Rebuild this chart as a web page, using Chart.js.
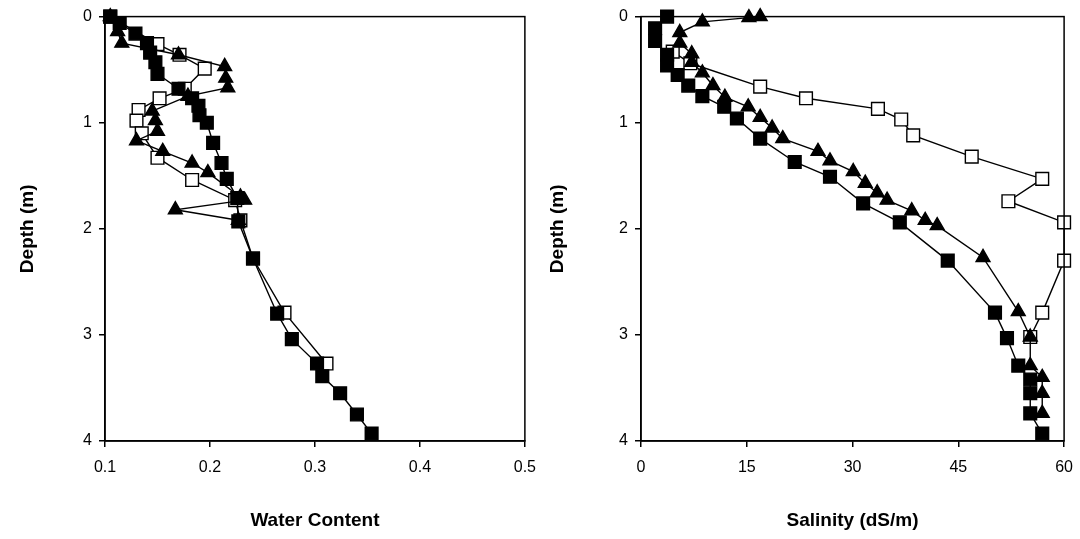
<!DOCTYPE html>
<html>
<head>
<meta charset="utf-8">
<script src="https://cdn.jsdelivr.net/npm/chart.js@4.4.1/dist/chart.umd.min.js"></script>
<style>
  html, body { margin: 0; padding: 0; background: #fff; overflow: hidden; }
  #wrap { position: relative; width: 1080px; height: 539px; overflow: hidden; }
  canvas { position: absolute; top: 0; }
</style>
</head>
<body>
<div id="wrap">
  <canvas id="c1" width="547" height="539" style="left:0"></canvas>
  <canvas id="c2" width="544" height="539" style="left:540px"></canvas>
</div>
<script>
// ---------- Water content (left panel) ----------
const wcFilledDepth = [0, 0.06, 0.16, 0.25, 0.34, 0.43, 0.54, 0.68, 0.77, 0.84, 0.93, 1.0, 1.19, 1.38, 1.53, 1.71, 1.93, 2.28, 2.80, 3.04, 3.27, 3.39, 3.55, 3.75, 3.93];
const wcFilledValue = [0.105, 0.114, 0.129, 0.140, 0.143, 0.148, 0.150, 0.170, 0.183, 0.189, 0.190, 0.197, 0.203, 0.211, 0.216, 0.226, 0.227, 0.241, 0.264, 0.278, 0.302, 0.307, 0.324, 0.340, 0.354];

const wcOpenDepth = [0, 0.26, 0.36, 0.49, 0.68, 0.77, 0.88, 0.98, 1.10, 1.33, 1.54, 1.73, 1.92, 2.28, 2.79, 3.27];
const wcOpenValue = [0.105, 0.150, 0.171, 0.195, 0.176, 0.152, 0.132, 0.130, 0.135, 0.150, 0.183, 0.224, 0.229, 0.241, 0.271, 0.311];

const wcTriDepth = [0, 0.14, 0.25, 0.36, 0.47, 0.58, 0.67, 0.75, 0.89, 0.98, 1.08, 1.17, 1.27, 1.38, 1.47, 1.70, 1.73, 1.82, 1.92];
const wcTriValue = [0.105, 0.112, 0.116, 0.170, 0.214, 0.215, 0.217, 0.179, 0.145, 0.148, 0.150, 0.130, 0.155, 0.183, 0.198, 0.229, 0.233, 0.167, 0.227];

const wcTicks = [0.1, 0.2, 0.3, 0.4, 0.5];

// ---------- Salinity (right panel) ----------
const salFilledDepth = [0, 0.11, 0.23, 0.36, 0.46, 0.55, 0.65, 0.75, 0.85, 0.96, 1.15, 1.37, 1.51, 1.76, 1.94, 2.30, 2.79, 3.03, 3.29, 3.42, 3.55, 3.74, 3.93];
const salFilledValue = [3.7, 2.0, 2.0, 3.7, 3.7, 5.2, 6.7, 8.7, 11.8, 13.6, 16.9, 21.8, 26.8, 31.5, 36.7, 43.5, 50.2, 51.9, 53.5, 55.2, 55.2, 55.2, 56.9];

const salOpenDepth = [0.33, 0.44, 0.66, 0.77, 0.87, 0.97, 1.12, 1.32, 1.53, 1.74, 1.94, 2.30, 2.79, 3.02];
const salOpenValue = [4.5, 7.0, 16.9, 23.4, 33.6, 36.9, 38.6, 46.9, 56.9, 52.1, 60.0, 60.0, 56.9, 55.2];

const salTriDepth = [0, 0.01, 0.05, 0.15, 0.25, 0.35, 0.43, 0.53, 0.65, 0.76, 0.85, 0.95, 1.05, 1.15, 1.27, 1.36, 1.46, 1.57, 1.66, 1.73, 1.83, 1.92, 1.97, 2.27, 2.78, 3.02, 3.29, 3.40, 3.55, 3.74];
const salTriValue = [16.9, 15.3, 8.7, 5.5, 5.5, 7.2, 7.2, 8.7, 10.2, 11.9, 15.2, 16.9, 18.6, 20.1, 25.1, 26.8, 30.1, 31.8, 33.5, 34.9, 38.4, 40.3, 42.0, 48.5, 53.5, 55.2, 55.2, 56.9, 56.9, 56.9];

const salTicks = [0, 15, 30, 45, 60];
const depthTicks = [0, 1, 2, 3, 4];

function pts(xs, ys) { return xs.map((v, i) => ({ x: v, y: ys[i] })); }

const FONT = "'Liberation Sans', Arial, Helvetica, sans-serif";

const boxPlugin = {
  id: 'box',
  afterDraw(chart) {
    const a = chart.chartArea, ctx = chart.ctx;
    ctx.save();
    ctx.strokeStyle = '#000';
    ctx.lineWidth = 1.5;
    ctx.strokeRect(a.left, a.top, a.right - a.left, a.bottom - a.top);
    ctx.restore();
  }
};

function ds(data, style) {
  const base = {
    data: data, showLine: true, borderColor: '#000', borderWidth: 1.4,
    pointBorderColor: '#000', pointBorderWidth: 1.4, clip: false,
    pointHoverRadius: 0
  };
  if (style === 'filled') return Object.assign(base, { pointStyle: 'rect', pointRadius: 9, pointBackgroundColor: '#000' });
  if (style === 'open') return Object.assign(base, { pointStyle: 'rect', pointRadius: 9, pointBackgroundColor: '#fff' });
  return Object.assign(base, { pointStyle: 'triangle', pointRadius: 8, pointBackgroundColor: '#000' });
}

function makeChart(id, datasets, xcfg, yW, yTitlePad, pad) {
  return new Chart(document.getElementById(id), {
    type: 'scatter',
    data: { datasets: datasets },
    plugins: [boxPlugin],
    options: {
      responsive: false, animation: false, devicePixelRatio: 1,
      layout: { padding: pad },
      plugins: { legend: { display: false }, tooltip: { enabled: false } },
      scales: {
        x: {
          type: 'linear', min: xcfg.min, max: xcfg.max,
          afterBuildTicks(s) { s.ticks = xcfg.ticks.map(v => ({ value: v })); },
          afterFit(s) { s.height = 98; },
          grid: { display: true, drawOnChartArea: false, drawTicks: true, tickLength: 6, color: '#000', lineWidth: 1.5 },
          border: { display: true, color: '#000', width: 1.5 },
          ticks: { color: '#000', font: { family: FONT, size: 16 }, padding: 11, maxRotation: 0,
                   callback: (v) => xcfg.fmt(v) },
          title: { display: true, text: xcfg.title, color: '#000', font: { family: FONT, size: 19, weight: 'bold' }, padding: { top: 0, bottom: 7 } }
        },
        y: {
          type: 'linear', reverse: true, min: 0, max: 4,
          afterBuildTicks(s) { s.ticks = depthTicks.map(v => ({ value: v })); },
          afterFit(s) { s.width = yW; },
          grid: { display: true, drawOnChartArea: false, drawTicks: true, tickLength: 6, color: '#000', lineWidth: 1.5 },
          border: { display: true, color: '#000', width: 1.5 },
          ticks: { color: '#000', font: { family: FONT, size: 16 }, padding: 7, callback: (v) => String(v) },
          title: { display: true, text: 'Depth (m)', color: '#000', font: { family: FONT, size: 19, weight: 'bold' }, padding: { top: yTitlePad, bottom: 0 } }
        }
      }
    }
  });
}

makeChart('c1', [
  ds(pts(wcFilledValue, wcFilledDepth), 'filled'),
  ds(pts(wcTriValue, wcTriDepth), 'tri'),
  ds(pts(wcOpenValue, wcOpenDepth), 'open')
], { min: 0.1, max: 0.5, ticks: wcTicks, title: 'Water Content', fmt: v => v.toFixed(1) }, 105, 16, { top: 16, right: 8, left: 0, bottom: 0 });

makeChart('c2', [
  ds(pts(salFilledValue, salFilledDepth), 'filled'),
  ds(pts(salTriValue, salTriDepth), 'tri'),
  ds(pts(salOpenValue, salOpenDepth), 'open')
], { min: 0, max: 60, ticks: salTicks, title: 'Salinity (dS/m)', fmt: v => String(v) }, 101, 6, { top: 15, right: 12, left: 0, bottom: 0 });
</script>
</body>
</html>
